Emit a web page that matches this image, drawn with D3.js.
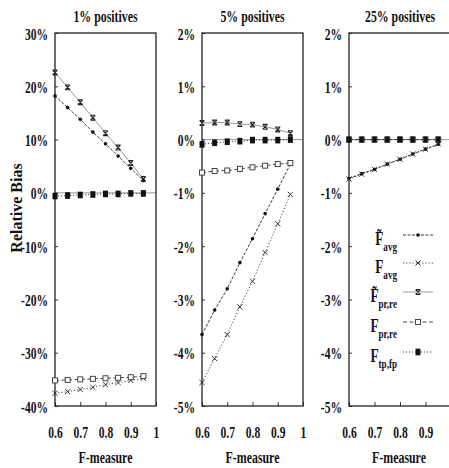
<!DOCTYPE html>
<html><head><meta charset="utf-8">
<script src="https://cdn.jsdelivr.net/npm/d3@7"></script>
<style>body{margin:0;background:#fff}svg{display:block}text{font-family:"Liberation Serif","Times New Roman",serif;font-weight:bold;fill:#111}</style>
</head><body><div id="c"></div>
<script>
const W = 449, H = 468;
const xValues = [0.6, 0.65, 0.7, 0.75, 0.8, 0.85, 0.9, 0.95];
const xTicks = [0.6, 0.7, 0.8, 0.9, 1];
const panelTitles = ["1% positives", "5% positives", "25% positives"];
const yTicks1 = [-40, -30, -20, -10, 0, 10, 20, 30];
const yTicks23 = [-5, -4, -3, -2, -1, 0, 1, 2];

// panel 1 (1% positives)
const p1_favgTilde = [18.2, 16.0, 13.8, 11.4, 9.2, 6.9, 4.6, 2.3];
const p1_favg = [-37.6, -37.3, -36.9, -36.5, -36.0, -35.6, -35.2, -34.8];
const p1_fprreTilde = [22.6, 19.8, 17.0, 14.1, 11.2, 8.5, 5.6, 2.6];
const p1_fprre = [-35.2, -35.1, -35.0, -34.9, -34.8, -34.7, -34.6, -34.4];
const p1_ftpfp = [-0.6, -0.5, -0.4, -0.3, -0.2, -0.2, -0.1, -0.1];
// panel 2 (5% positives)
const p2_favgTilde = [-3.66, -3.20, -2.80, -2.31, -1.86, -1.39, -0.93, -0.46];
const p2_favg = [-4.56, -4.11, -3.66, -3.14, -2.66, -2.12, -1.58, -1.03];
const p2_fprreTilde = [0.31, 0.32, 0.32, 0.29, 0.28, 0.24, 0.19, 0.12];
const p2_fprre = [-0.62, -0.59, -0.58, -0.55, -0.52, -0.49, -0.46, -0.44];
const p2_ftpfp = [-0.09, -0.06, -0.04, -0.03, -0.01, -0.01, -0.01, 0.0];
// panel 3 (25% positives)
const p3_favgTilde = [-0.73, -0.64, -0.56, -0.46, -0.37, -0.27, -0.18, -0.09];
const p3_favg = [-0.74, -0.65, -0.56, -0.46, -0.37, -0.27, -0.18, -0.08];
const p3_fprreTilde = [0, 0, 0, 0, 0, 0, 0, 0];
const p3_fprre = [0, 0, 0, 0, 0, 0, 0, 0];
const p3_ftpfp = [0, 0, 0, 0, 0, 0, 0, 0];

const seriesKeys = ["favgTilde", "favg", "fprreTilde", "fprre", "ftpfp"];
const legendMain = ["F\u0303", "F", "F\u0303", "F", "F"];
const legendSub = ["avg", "avg", "pr,re", "pr,re", "tp,fp"];

const styles = {
  favgTilde: {stroke: "#222", dash: "3,1.5", width: 0.9, marker: "dot"},
  favg: {stroke: "#333", dash: "1.2,2", width: 0.9, marker: "x"},
  fprreTilde: {stroke: "#999", dash: null, width: 1, marker: "star"},
  fprre: {stroke: "#333", dash: "4,2.5", width: 0.9, marker: "osq"},
  ftpfp: {stroke: "#333", dash: "1.2,1.8", width: 0.9, marker: "fsq"}
};

const panels = [
  {title: panelTitles[0], x0: 55, x1: 156, yDom: [-40, 30], yTicks: yTicks1, xLabels: xTicks,
   data: {favgTilde: p1_favgTilde, favg: p1_favg, fprreTilde: p1_fprreTilde, fprre: p1_fprre, ftpfp: p1_ftpfp}},
  {title: panelTitles[1], x0: 202, x1: 303, yDom: [-5, 2], yTicks: yTicks23, xLabels: xTicks,
   data: {favgTilde: p2_favgTilde, favg: p2_favg, fprreTilde: p2_fprreTilde, fprre: p2_fprre, ftpfp: p2_ftpfp}},
  {title: panelTitles[2], x0: 349, x1: 451, yDom: [-5, 2], yTicks: yTicks23, xLabels: xTicks.slice(0, 4),
   data: {favgTilde: p3_favgTilde, favg: p3_favg, fprreTilde: p3_fprreTilde, fprre: p3_fprre, ftpfp: p3_ftpfp}}
];
const plotTop = 33, plotBottom = 406;
const SX = 0.68;

const svg = d3.select("#c").append("svg").attr("width", W).attr("height", H);

function marker(g, type, cx, cy, s) {
  s = s || 1;
  if (type === "dot") {
    g.append("circle").attr("cx", cx).attr("cy", cy).attr("r", 1.8 * s).attr("fill", "#111");
  } else if (type === "x") {
    const r = 2.6 * s;
    g.append("path").attr("d", `M${cx - r},${cy - r}L${cx + r},${cy + r}M${cx - r},${cy + r}L${cx + r},${cy - r}`)
      .attr("stroke", "#222").attr("stroke-width", 0.9).attr("fill", "none");
  } else if (type === "star") {
    const r = 2.4 * s;
    g.append("path").attr("d", `M${cx - r},${cy - r}L${cx + r},${cy + r}M${cx - r},${cy + r}L${cx + r},${cy - r}M${cx - r},${cy - r}L${cx + r},${cy - r}M${cx - r},${cy + r}L${cx + r},${cy + r}`)
      .attr("stroke", "#222").attr("stroke-width", 1.1).attr("fill", "none");
  } else if (type === "osq") {
    const r = 2.5 * s;
    g.append("rect").attr("x", cx - r).attr("y", cy - r).attr("width", 2 * r).attr("height", 2 * r)
      .attr("fill", "#fff").attr("stroke", "#333").attr("stroke-width", 0.9);
  } else if (type === "fsq") {
    g.append("rect").attr("x", cx - 2.5 * s).attr("y", cy - 3.3 * s).attr("width", 5 * s).attr("height", 6.6 * s)
      .attr("fill", "#111");
  }
}

panels.forEach((p, pi) => {
  const x = d3.scaleLinear().domain([0.6, 1]).range([p.x0, p.x1]);
  const y = d3.scaleLinear().domain(p.yDom).range([plotBottom, plotTop]);
  const g = svg.append("g");

  g.append("line").attr("x1", p.x0).attr("x2", p.x1).attr("y1", y(0)).attr("y2", y(0))
    .attr("stroke", "#999").attr("stroke-width", 1);

  const ya = g.append("g").attr("transform", `translate(${p.x0},0)`)
    .call(d3.axisLeft(y).tickValues(p.yTicks).tickSize(-3).tickSizeOuter(0).tickFormat(d => d + "%"));
  ya.select(".domain").remove();
  ya.selectAll("line").attr("stroke", "#333");
  ya.selectAll("text").attr("x", 0).attr("dy", null).attr("y", 6)
    .attr("transform", `translate(-7,0) scale(${SX},1)`)
    .style("font-size", "17px").attr("fill", "#111");

  const xa = g.append("g").attr("transform", `translate(0,${plotBottom})`)
    .call(d3.axisBottom(x).tickValues(p.xLabels).tickSize(-4).tickSizeOuter(0).tickFormat(d => d === 1 ? "1" : d3.format(".1f")(d)));
  xa.select(".domain").remove();
  xa.selectAll("line").attr("stroke", "#333");
  xa.selectAll("text").attr("y", 0).attr("dy", null)
    .attr("transform", `translate(0,32) scale(${SX},1)`)
    .style("font-size", "17px").attr("fill", "#111");

  g.append("rect").attr("x", p.x0).attr("y", plotTop).attr("width", p.x1 - p.x0).attr("height", plotBottom - plotTop)
    .attr("fill", "none").attr("stroke", "#222").attr("stroke-width", 1.3);

  const line = d3.line().x((d, i) => x(xValues[i])).y(d => y(d));
  seriesKeys.forEach(k => {
    const st = styles[k];
    const vals = p.data[k];
    g.append("path").attr("d", line(vals)).attr("fill", "none").attr("stroke", st.stroke)
      .attr("stroke-width", st.width).attr("stroke-dasharray", st.dash);
    const mg = g.append("g");
    vals.forEach((v, i) => marker(mg, st.marker, x(xValues[i]), y(v), pi === 2 && k === "ftpfp" ? 0.85 : 1));
  });

  svg.append("text").attr("transform", `translate(${(p.x0 + Math.min(p.x1, 449) + (pi === 2 ? 2 : 0)) / 2},22) scale(0.74,1)`)
    .attr("text-anchor", "middle").style("font-size", "16px").text(p.title);
  svg.append("text").attr("transform", `translate(${(p.x0 + p.x1) / 2 + (pi === 2 ? -1 : 0)},463) scale(0.7,1)`)
    .attr("text-anchor", "middle").style("font-size", "17px").text("F-measure");

  if (pi === 2) {
    const ly = [235, 263, 292, 322, 352];
    seriesKeys.forEach((k, i) => {
      const st = styles[k];
      g.append("line").attr("x1", 403).attr("x2", 433).attr("y1", ly[i]).attr("y2", ly[i])
        .attr("stroke", st.stroke).attr("stroke-width", st.width).attr("stroke-dasharray", st.dash);
      marker(g, st.marker, 418, ly[i], 1);
      const t = g.append("text").attr("text-anchor", "end")
        .attr("transform", `translate(397,${ly[i] + 10}) scale(0.7,1)`);
      t.append("tspan").style("font-size", "19px").text(legendMain[i]);
      t.append("tspan").style("font-size", "13px").attr("dy", 6).text(legendSub[i]);
    });
  }
});

svg.append("text").attr("transform", "translate(22,208) rotate(-90)")
  .attr("text-anchor", "middle").style("font-size", "16px").text("Relative Bias");
</script></body></html>
